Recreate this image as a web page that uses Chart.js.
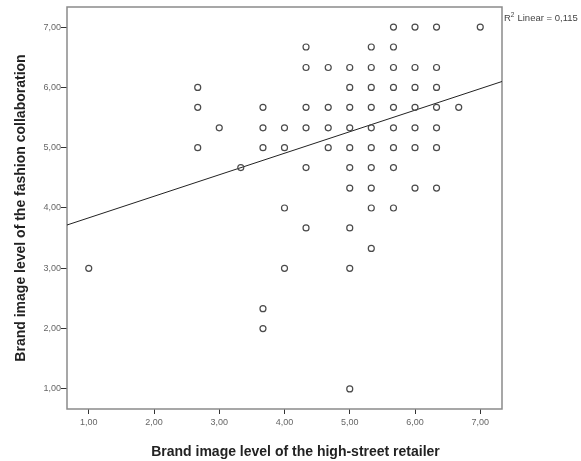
<!DOCTYPE html>
<html>
<head>
<meta charset="utf-8">
<script src="https://cdn.jsdelivr.net/npm/chart.js@4.4.1/dist/chart.umd.min.js"></script>
<style>
  html, body { margin: 0; padding: 0; background: #fff; }
</style>
</head>
<body>
<canvas id="scatter" width="581" height="461"></canvas>
<script>
// Data (values lie on thirds of a point)
const retailerLevels = [1.00, 2.67, 3.00, 3.33, 3.67, 4.00, 4.33, 4.67, 5.00, 5.33, 5.67, 6.00, 6.33, 6.67, 7.00];
const collabByLevel = [
  [3.00],
  [6.00, 5.67, 5.00],
  [5.33],
  [4.67],
  [5.67, 5.33, 5.00, 2.33, 2.00],
  [5.33, 5.00, 4.00, 3.00],
  [6.67, 6.33, 5.67, 5.33, 4.67, 3.67],
  [6.33, 5.67, 5.33, 5.00],
  [6.33, 6.00, 5.67, 5.33, 5.00, 4.67, 4.33, 3.67, 3.00, 1.00],
  [6.67, 6.33, 6.00, 5.67, 5.33, 5.00, 4.67, 4.33, 4.00, 3.33],
  [7.00, 6.67, 6.33, 6.00, 5.67, 5.33, 5.00, 4.67, 4.00],
  [7.00, 6.33, 6.00, 5.67, 5.33, 5.00, 4.33],
  [7.00, 6.33, 6.00, 5.67, 5.33, 5.00, 4.33],
  [5.67],
  [7.00]
];
const xTicks = [1, 2, 3, 4, 5, 6, 7];
const yTicks = [1, 2, 3, 4, 5, 6, 7];
const axisMin = 2 / 3, axisMax = 22 / 3;

// Linear fit as shown in the picture
const fitIntercept = 3.48;
const fitSlope = 0.357;
const rSquared = 0.115;

const xTitle = 'Brand image level of the high-street retailer';
const yTitle = 'Brand image level of the fashion collaboration';

const points = [];
retailerLevels.forEach((x, i) => collabByLevel[i].forEach(y => points.push({ x, y })));
const fitLine = [axisMin, axisMax].map(x => ({ x, y: fitIntercept + fitSlope * x }));

const fmt = v => Number(v).toFixed(2).replace('.', ',');
const FONT = 'Arial, "Liberation Sans", sans-serif';

// box round the plot, x title, R² note
const frame = {
  id: 'frame',
  beforeDatasetsDraw(chart) {
    const { ctx, chartArea: a } = chart;
    ctx.save();
    ctx.strokeStyle = '#8a8a8a';
    ctx.lineWidth = 1.5;
    ctx.strokeRect(a.left, a.top, a.right - a.left, a.bottom - a.top);
    ctx.restore();
  },
  afterDraw(chart) {
    const { ctx, chartArea: a } = chart;
    ctx.save();
    // x axis title sits a bit right of the plot centre, as SPSS does
    ctx.fillStyle = '#222';
    ctx.font = 'bold 14px ' + FONT;
    ctx.textAlign = 'center';
    ctx.textBaseline = 'alphabetic';
    ctx.fillText(xTitle, (a.left + a.right) / 2 + 11, 456);

    ctx.textAlign = 'left';
    ctx.fillStyle = '#444';
    let x = a.right + 2, y = 21;
    ctx.font = '9.5px ' + FONT;
    ctx.fillText('R', x, y);
    x += ctx.measureText('R').width;
    ctx.font = '6.5px ' + FONT;
    ctx.fillText('2', x, y - 4);
    x += ctx.measureText('2').width + 3;
    ctx.font = '9.5px ' + FONT;
    ctx.fillText('Linear = ' + rSquared.toFixed(3).replace('.', ','), x, y);
    ctx.restore();
  }
};

const tickFont = { family: FONT, size: 9 };
const titleFont = { family: FONT, size: 14, weight: 'bold' };

new Chart(document.getElementById('scatter'), {
  type: 'scatter',
  data: {
    datasets: [
      {
        data: points,
        pointRadius: 3,
        pointHoverRadius: 3,
        borderColor: '#4a4a4a',
        borderWidth: 1.2,
        backgroundColor: 'rgba(0,0,0,0)'
      },
      {
        type: 'line',
        data: fitLine,
        borderColor: '#222',
        borderWidth: 1,
        pointRadius: 0,
        fill: false
      }
    ]
  },
  options: {
    responsive: false,
    animation: false,
    layout: { padding: { left: 0, top: 7, right: 79, bottom: 0 } },
    plugins: { legend: { display: false }, tooltip: { enabled: false } },
    scales: {
      x: {
        type: 'linear',
        min: axisMin,
        max: axisMax,
        afterBuildTicks: s => { s.ticks = xTicks.map(v => ({ value: v })); },
        afterFit: s => { s.height = 52; },
        ticks: { callback: fmt, color: '#666', font: tickFont, padding: 3, maxRotation: 0, autoSkip: false },
        grid: { drawOnChartArea: false, drawTicks: true, tickLength: 5, tickColor: '#333', tickWidth: 1 },
        border: { display: false },
        title: { display: false }
      },
      y: {
        type: 'linear',
        min: axisMin,
        max: axisMax,
        afterBuildTicks: s => { s.ticks = yTicks.map(v => ({ value: v })); },
        afterFit: s => { s.width = 67; },
        ticks: { callback: fmt, color: '#666', font: tickFont, padding: 0, autoSkip: false },
        grid: { drawOnChartArea: false, drawTicks: true, tickLength: 6, tickColor: '#333', tickWidth: 1 },
        border: { display: false },
        title: { display: true, text: yTitle, color: '#222', font: titleFont, padding: { top: 13, bottom: 0 } }
      }
    }
  },
  plugins: [frame]
});
</script>
</body>
</html>
